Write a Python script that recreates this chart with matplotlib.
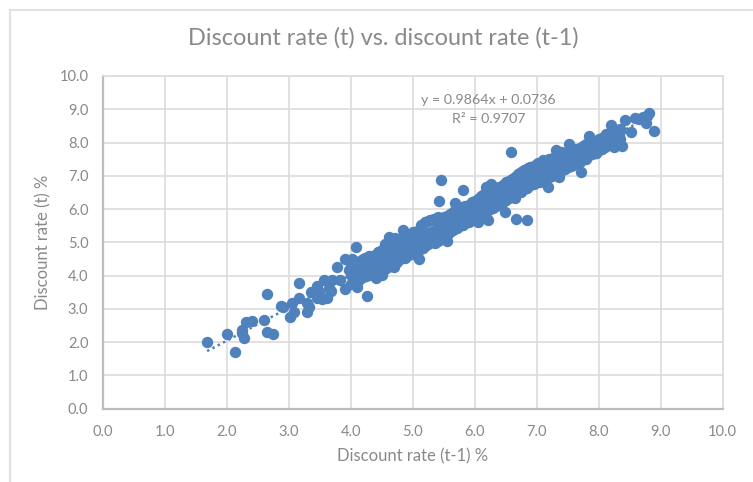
import matplotlib
matplotlib.use("Agg")
import numpy as np
import matplotlib.pyplot as plt

plt.rcParams["font.family"] = ["Lato", "DejaVu Sans"]

# values: isolated points first, then the dense band
rate_prev_outer = [1.68, 2.00, 2.13, 2.27, 2.24, 2.31, 2.40, 2.25, 2.60, 2.65, 2.64, 2.75, 2.87, 2.90,
                   3.02, 3.09, 3.05, 3.17, 3.16, 3.29, 3.32, 3.29, 3.35, 3.45, 3.46, 3.54, 3.61, 3.57,
                   3.69, 3.68, 3.65, 3.49, 3.78, 3.90, 4.02, 4.08, 3.90, 4.10, 4.26, 3.83, 3.97, 4.13,
                   4.85, 4.61, 5.10, 5.46, 5.42, 5.81, 5.69, 6.06, 6.21, 6.49, 6.67, 6.85, 6.58, 6.26,
                   6.86, 7.02, 7.19, 7.36, 7.53, 7.72, 7.79, 7.85, 7.96, 8.07, 8.12, 8.20, 8.25, 8.33,
                   8.38, 8.42, 8.52, 8.59, 8.71, 8.76, 8.81, 8.89]
rate_curr_outer = [2.00, 2.24, 1.69, 2.12, 2.36, 2.60, 2.65, 2.28, 2.66, 3.45, 2.32, 2.25, 3.08, 3.05,
                   2.76, 2.92, 3.17, 3.32, 3.78, 2.90, 3.05, 3.17, 3.50, 3.68, 3.33, 3.31, 3.34, 3.87,
                   3.87, 3.53, 3.63, 3.50, 4.26, 4.49, 4.50, 4.87, 3.60, 3.66, 3.39, 3.87, 4.17, 3.87,
                   5.38, 5.17, 4.50, 6.87, 6.25, 6.57, 6.19, 5.62, 5.66, 5.92, 5.70, 5.68, 7.71, 6.75,
                   7.22, 7.39, 6.67, 6.95, 7.96, 7.11, 7.50, 8.20, 7.69, 7.93, 8.26, 8.52, 7.86, 8.23,
                   7.91, 8.68, 8.33, 8.74, 8.78, 8.58, 8.89, 8.35]

# bumps on the edges of the band
rate_prev_edge = [5.28, 5.41, 5.14, 5.36, 5.17, 4.87, 4.50, 4.32, 4.69, 5.71, 5.81, 5.89, 6.19, 4.23,
                  4.34, 4.53, 6.76, 7.10, 7.27, 7.32, 7.40, 7.43, 7.59, 7.70, 6.94, 6.84, 6.62, 6.46,
                  6.65, 6.41, 6.19, 8.31, 8.02, 8.65, 8.78, 4.44, 4.72, 5.02, 5.55, 4.40, 4.62]
rate_curr_edge = [5.67, 5.76, 5.52, 4.97, 4.82, 4.53, 4.02, 4.08, 4.26, 5.42, 5.52, 6.07, 6.67, 4.53,
                  4.57, 4.77, 6.99, 7.48, 7.53, 7.77, 7.72, 7.38, 7.32, 7.77, 6.78, 6.63, 6.78, 6.63,
                  6.33, 6.17, 5.92, 8.20, 8.00, 8.72, 8.80, 4.72, 5.12, 5.30, 5.05, 3.92, 4.42]

rate_prev_band = [4.00, 4.05, 4.10, 4.15, 4.20, 4.25, 4.30, 4.35, 4.40, 4.45, 4.50, 4.55, 4.60, 4.65, 4.70,
                  4.75, 4.80, 4.85, 4.90, 4.95, 5.00, 5.05, 5.10, 5.15, 5.20, 5.25, 5.30, 5.35, 5.40, 5.45,
                  5.50, 5.55, 5.60, 5.65, 5.70, 5.75, 5.80, 5.85, 5.90, 5.95, 6.00, 6.05, 6.10, 6.15, 6.20,
                  6.25, 6.30, 6.35, 6.40, 6.45, 6.50, 6.55, 6.60, 6.65, 6.70, 6.75, 6.80, 6.85, 6.90, 6.95,
                  7.00, 7.05, 7.10, 7.15, 7.20, 7.25, 7.30, 7.35, 7.40, 7.45, 7.50, 7.55, 7.60, 7.65, 7.70,
                  7.75, 7.80, 7.85, 7.90, 7.95, 8.00, 8.05, 8.10, 8.15, 8.20, 8.25, 8.30, 8.35]
rate_curr_band_hi = [4.30, 4.35, 4.38, 4.45, 4.50, 4.52, 4.58, 4.60, 4.62, 4.70, 4.78, 4.95, 5.00, 4.92, 5.02,
                     5.05, 5.10, 5.12, 5.20, 5.18, 5.30, 5.32, 5.38, 5.50, 5.62, 5.65, 5.68, 5.70, 5.72, 5.70,
                     5.75, 5.80, 5.85, 5.90, 5.95, 6.00, 6.05, 6.10, 6.12, 6.20, 6.25, 6.30, 6.38, 6.45, 6.55,
                     6.65, 6.60, 6.62, 6.65, 6.72, 6.80, 6.85, 6.90, 6.95, 7.05, 7.10, 7.18, 7.20, 7.25, 7.30,
                     7.35, 7.38, 7.42, 7.45, 7.50, 7.52, 7.55, 7.60, 7.65, 7.70, 7.75, 7.78, 7.80, 7.82, 7.85,
                     7.90, 7.95, 8.00, 8.02, 8.05, 8.10, 8.15, 8.20, 8.25, 8.30, 8.35, 8.38, 8.42]
rate_curr_band_mid = [4.02, 4.08, 4.12, 4.16, 4.22, 4.28, 4.30, 4.36, 4.42, 4.46, 4.50, 4.55, 4.62, 4.66, 4.72,
                      4.74, 4.82, 4.84, 4.92, 4.96, 5.00, 5.06, 5.08, 5.16, 5.22, 5.24, 5.32, 5.34, 5.42, 5.44,
                      5.50, 5.56, 5.58, 5.66, 5.70, 5.76, 5.78, 5.86, 5.90, 5.94, 6.02, 6.06, 6.12, 6.14, 6.22,
                      6.26, 6.30, 6.36, 6.38, 6.46, 6.50, 6.56, 6.60, 6.66, 6.72, 6.74, 6.82, 6.84, 6.92, 6.96,
                      7.02, 7.06, 7.10, 7.16, 7.20, 7.26, 7.30, 7.36, 7.40, 7.46, 7.50, 7.54, 7.62, 7.66, 7.70,
                      7.74, 7.80, 7.86, 7.90, 7.96, 8.00, 8.06, 8.08, 8.16, 8.20, 8.26, 8.30, 8.36]
rate_curr_band_lo = [3.75, 3.80, 3.85, 3.92, 3.95, 4.00, 4.02, 4.05, 4.10, 4.15, 4.18, 4.20, 4.25, 4.32, 4.38,
                     4.42, 4.50, 4.55, 4.60, 4.65, 4.66, 4.72, 4.78, 4.85, 4.90, 4.95, 5.00, 5.02, 5.05, 5.10,
                     5.18, 5.22, 5.30, 5.36, 5.42, 5.48, 5.52, 5.58, 5.62, 5.68, 5.72, 5.78, 5.85, 5.88, 5.95,
                     6.00, 6.02, 6.10, 6.16, 6.20, 6.28, 6.32, 6.38, 6.45, 6.50, 6.52, 6.60, 6.68, 6.72, 6.75,
                     6.80, 6.82, 6.85, 6.92, 6.95, 7.00, 7.05, 7.08, 7.15, 7.20, 7.25, 7.30, 7.35, 7.38, 7.42,
                     7.50, 7.55, 7.62, 7.65, 7.70, 7.78, 7.82, 7.88, 7.92, 8.00, 8.05, 8.08, 8.12]

trend_slope = 0.9864
trend_intercept = 0.0736
trend_x = [1.68, 8.89]
ticks = [0, 1, 2, 3, 4, 5, 6, 7, 8, 9, 10]

azul = "#4f81bd"
gris = "#898989"

fig = plt.figure(figsize=(7.53, 4.82), dpi=100)
ax = fig.add_axes([103 / 753, 1 - 408.7 / 482, 619.5 / 753, 332.7 / 482])

# marco del grafico
fig.add_artist(plt.Line2D([9.5 / 753, 9.5 / 753], [0, 1 - 9.5 / 482], color="#e0e0e0", lw=1.5))
fig.add_artist(plt.Line2D([9.5 / 753, 1], [1 - 9.5 / 482, 1 - 9.5 / 482], color="#e0e0e0", lw=1.5))

x_todo = rate_prev_outer + rate_prev_edge + rate_prev_band * 3
y_todo = rate_curr_outer + rate_curr_edge + rate_curr_band_hi + rate_curr_band_mid + rate_curr_band_lo
ax.plot(x_todo, y_todo, "o", color=azul, ms=8.2, mew=0, zorder=3, clip_on=False)

x_linea = np.array(trend_x)
ax.plot(x_linea, trend_slope * x_linea + trend_intercept, color=azul, lw=1.8,
        dashes=(1, 1.4), zorder=2)

ax.set_xlim(0, 10)
ax.set_ylim(0, 10)
ax.set_xticks(ticks)
ax.set_yticks(ticks)
ax.set_xticklabels([f"{t:.1f}" for t in ticks])
ax.set_yticklabels([f"{t:.1f}" for t in ticks])
ax.grid(True, color="#dcdcdc", lw=1.2, zorder=0)
ax.set_axisbelow(True)
ax.tick_params(axis="x", length=0, labelsize=10.5, labelcolor=gris, pad=11.5)
ax.tick_params(axis="y", length=0, labelsize=10.5, labelcolor=gris, pad=10.5)

for lado in ["top", "right"]:
    ax.spines[lado].set_color("#dcdcdc")
    ax.spines[lado].set_linewidth(1.2)
for lado in ["left", "bottom"]:
    ax.spines[lado].set_color("#bdbdbd")
    ax.spines[lado].set_linewidth(1.6)

ax.set_xlabel("Discount rate (t-1) %", fontsize=12, color=gris, labelpad=7)
ax.set_ylabel("Discount rate (t) %", fontsize=12, color=gris, labelpad=6)
fig.text(383.5 / 753, 1 - 38 / 482, "Discount rate (t) vs. discount rate (t-1)",
         fontsize=16.9, color=gris, ha="center", va="center")

ax.text(6.22, 9.27, f"y = {trend_slope}x + {trend_intercept}", fontsize=10.3, color=gris,
        ha="center", va="center", zorder=4)
ax.text(6.22, 8.70, "R² = 0.9707", fontsize=10.3, color=gris, ha="center", va="center", zorder=4)

plt.savefig("out.png", dpi=100)
